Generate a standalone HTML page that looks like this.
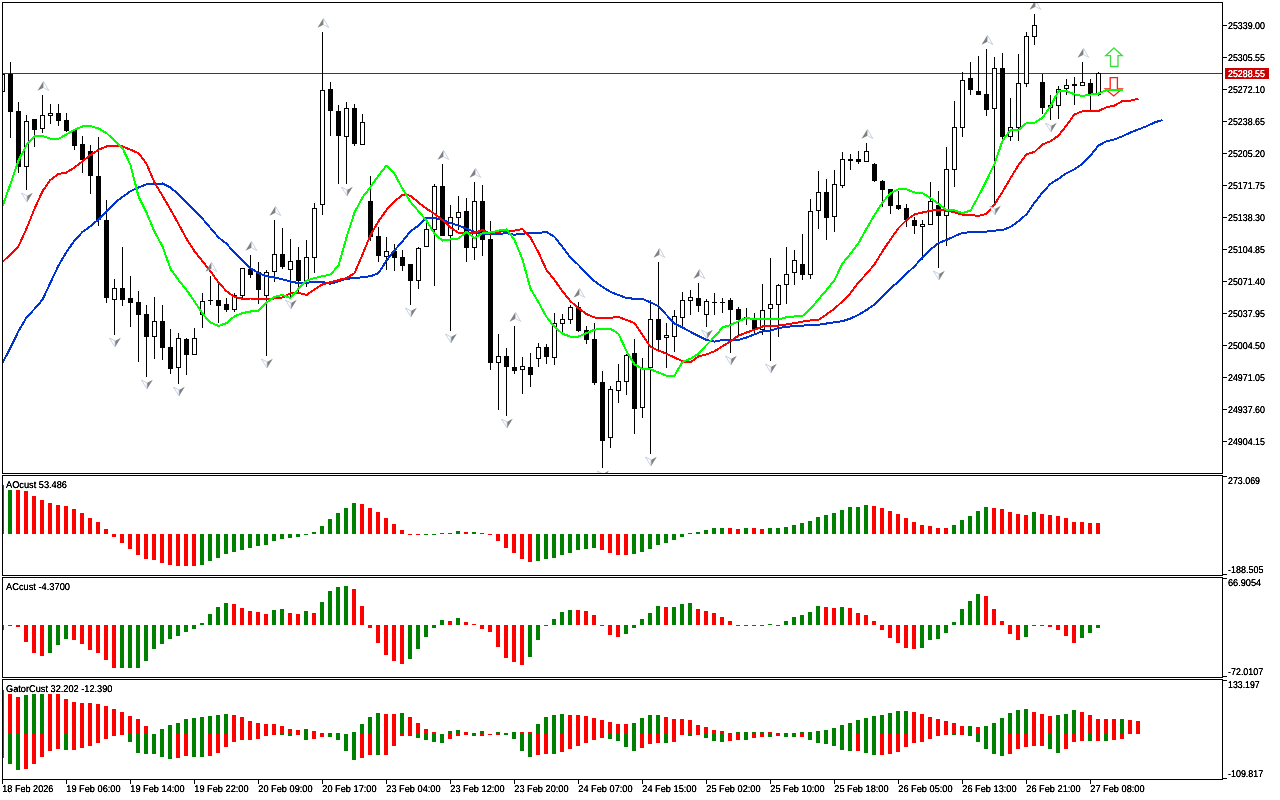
<!DOCTYPE html><html><head><meta charset="utf-8"><title>chart</title><style>html,body{margin:0;padding:0;background:#fff;overflow:hidden}svg{display:block}text{text-rendering:geometricPrecision;font-family:"Liberation Sans",sans-serif;font-size:9.8px;fill:#000;stroke:#000;stroke-width:0.1px}</style></head><body>
<svg width="1280" height="800" viewBox="0 0 1280 800">
<rect width="1280" height="800" fill="#fff"/>
<defs><clipPath id="cm"><rect x="3" y="3" width="1219" height="470"/></clipPath><clipPath id="c1"><rect x="3" y="476" width="1219" height="99"/></clipPath><clipPath id="c2"><rect x="3" y="578" width="1219" height="99"/></clipPath><filter id="th" x="0" y="0" width="1280" height="800" filterUnits="userSpaceOnUse" color-interpolation-filters="sRGB"><feComponentTransfer><feFuncA type="linear" slope="1.7" intercept="-0.12"/></feComponentTransfer></filter><clipPath id="c3"><rect x="3" y="680" width="1219" height="99"/></clipPath></defs>
<g shape-rendering="crispEdges">
<g clip-path="url(#cm)">
<rect x="3" y="73" width="1219" height="1" fill="#cc0000"/>
<rect x="2" y="70" width="1" height="25" fill="#000"/>
<rect x="0" y="74" width="5" height="18" fill="#000"/>
<rect x="1" y="75" width="3" height="16" fill="#fff"/>
<rect x="10" y="62" width="1" height="76" fill="#000"/>
<rect x="8" y="74" width="5" height="38" fill="#000"/>
<rect x="18" y="102" width="1" height="71" fill="#000"/>
<rect x="16" y="111" width="5" height="56" fill="#000"/>
<rect x="26" y="115" width="1" height="75" fill="#000"/>
<rect x="24" y="121" width="5" height="46" fill="#000"/>
<rect x="25" y="122" width="3" height="44" fill="#fff"/>
<rect x="34" y="119" width="1" height="28" fill="#000"/>
<rect x="32" y="119" width="5" height="11" fill="#000"/>
<rect x="42" y="95" width="1" height="38" fill="#000"/>
<rect x="40" y="115" width="5" height="14" fill="#000"/>
<rect x="41" y="116" width="3" height="12" fill="#fff"/>
<rect x="50" y="104" width="1" height="20" fill="#000"/>
<rect x="48" y="113" width="5" height="3" fill="#000"/>
<rect x="49" y="114" width="3" height="1" fill="#fff"/>
<rect x="58" y="104" width="1" height="22" fill="#000"/>
<rect x="56" y="113" width="5" height="8" fill="#000"/>
<rect x="66" y="113" width="1" height="19" fill="#000"/>
<rect x="64" y="120" width="5" height="11" fill="#000"/>
<rect x="74" y="129" width="1" height="21" fill="#000"/>
<rect x="72" y="130" width="5" height="16" fill="#000"/>
<rect x="82" y="136" width="1" height="37" fill="#000"/>
<rect x="80" y="144" width="5" height="16" fill="#000"/>
<rect x="90" y="145" width="1" height="49" fill="#000"/>
<rect x="88" y="151" width="5" height="25" fill="#000"/>
<rect x="98" y="137" width="1" height="89" fill="#000"/>
<rect x="96" y="176" width="5" height="44" fill="#000"/>
<rect x="106" y="200" width="1" height="103" fill="#000"/>
<rect x="104" y="220" width="5" height="78" fill="#000"/>
<rect x="114" y="279" width="1" height="56" fill="#000"/>
<rect x="112" y="288" width="5" height="12" fill="#000"/>
<rect x="113" y="289" width="3" height="10" fill="#fff"/>
<rect x="122" y="247" width="1" height="59" fill="#000"/>
<rect x="120" y="288" width="5" height="12" fill="#000"/>
<rect x="130" y="276" width="1" height="51" fill="#000"/>
<rect x="128" y="298" width="5" height="5" fill="#000"/>
<rect x="138" y="291" width="1" height="71" fill="#000"/>
<rect x="136" y="302" width="5" height="13" fill="#000"/>
<rect x="146" y="305" width="1" height="72" fill="#000"/>
<rect x="144" y="314" width="5" height="23" fill="#000"/>
<rect x="154" y="297" width="1" height="62" fill="#000"/>
<rect x="152" y="321" width="5" height="16" fill="#000"/>
<rect x="153" y="322" width="3" height="14" fill="#fff"/>
<rect x="162" y="305" width="1" height="55" fill="#000"/>
<rect x="160" y="321" width="5" height="27" fill="#000"/>
<rect x="170" y="329" width="1" height="45" fill="#000"/>
<rect x="168" y="347" width="5" height="22" fill="#000"/>
<rect x="178" y="333" width="1" height="51" fill="#000"/>
<rect x="176" y="338" width="5" height="30" fill="#000"/>
<rect x="177" y="339" width="3" height="28" fill="#fff"/>
<rect x="186" y="338" width="1" height="37" fill="#000"/>
<rect x="184" y="339" width="5" height="16" fill="#000"/>
<rect x="194" y="328" width="1" height="27" fill="#000"/>
<rect x="192" y="338" width="5" height="17" fill="#000"/>
<rect x="193" y="339" width="3" height="15" fill="#fff"/>
<rect x="202" y="293" width="1" height="35" fill="#000"/>
<rect x="200" y="301" width="5" height="14" fill="#000"/>
<rect x="201" y="302" width="3" height="12" fill="#fff"/>
<rect x="210" y="276" width="1" height="29" fill="#000"/>
<rect x="208" y="300" width="5" height="1" fill="#000"/>
<rect x="218" y="284" width="1" height="39" fill="#000"/>
<rect x="216" y="300" width="5" height="6" fill="#000"/>
<rect x="226" y="298" width="1" height="14" fill="#000"/>
<rect x="224" y="304" width="5" height="6" fill="#000"/>
<rect x="234" y="293" width="1" height="19" fill="#000"/>
<rect x="232" y="295" width="5" height="15" fill="#000"/>
<rect x="233" y="296" width="3" height="13" fill="#fff"/>
<rect x="242" y="268" width="1" height="30" fill="#000"/>
<rect x="240" y="268" width="5" height="28" fill="#000"/>
<rect x="241" y="269" width="3" height="26" fill="#fff"/>
<rect x="250" y="255" width="1" height="23" fill="#000"/>
<rect x="248" y="269" width="5" height="6" fill="#000"/>
<rect x="258" y="262" width="1" height="42" fill="#000"/>
<rect x="256" y="272" width="5" height="18" fill="#000"/>
<rect x="266" y="270" width="1" height="86" fill="#000"/>
<rect x="264" y="272" width="5" height="24" fill="#000"/>
<rect x="265" y="273" width="3" height="22" fill="#fff"/>
<rect x="274" y="220" width="1" height="62" fill="#000"/>
<rect x="272" y="254" width="5" height="18" fill="#000"/>
<rect x="273" y="255" width="3" height="16" fill="#fff"/>
<rect x="282" y="228" width="1" height="41" fill="#000"/>
<rect x="280" y="254" width="5" height="13" fill="#000"/>
<rect x="290" y="239" width="1" height="58" fill="#000"/>
<rect x="288" y="261" width="5" height="9" fill="#000"/>
<rect x="289" y="262" width="3" height="7" fill="#fff"/>
<rect x="298" y="247" width="1" height="46" fill="#000"/>
<rect x="296" y="260" width="5" height="21" fill="#000"/>
<rect x="306" y="240" width="1" height="47" fill="#000"/>
<rect x="304" y="257" width="5" height="24" fill="#000"/>
<rect x="305" y="258" width="3" height="22" fill="#fff"/>
<rect x="314" y="203" width="1" height="70" fill="#000"/>
<rect x="312" y="208" width="5" height="50" fill="#000"/>
<rect x="313" y="209" width="3" height="48" fill="#fff"/>
<rect x="322" y="32" width="1" height="183" fill="#000"/>
<rect x="320" y="90" width="5" height="115" fill="#000"/>
<rect x="321" y="91" width="3" height="113" fill="#fff"/>
<rect x="330" y="82" width="1" height="54" fill="#000"/>
<rect x="328" y="89" width="5" height="22" fill="#000"/>
<rect x="338" y="105" width="1" height="79" fill="#000"/>
<rect x="336" y="111" width="5" height="25" fill="#000"/>
<rect x="346" y="102" width="1" height="82" fill="#000"/>
<rect x="344" y="108" width="5" height="29" fill="#000"/>
<rect x="345" y="109" width="3" height="27" fill="#fff"/>
<rect x="354" y="104" width="1" height="42" fill="#000"/>
<rect x="352" y="108" width="5" height="36" fill="#000"/>
<rect x="362" y="114" width="1" height="31" fill="#000"/>
<rect x="360" y="122" width="5" height="23" fill="#000"/>
<rect x="361" y="123" width="3" height="21" fill="#fff"/>
<rect x="370" y="176" width="1" height="65" fill="#000"/>
<rect x="368" y="201" width="5" height="36" fill="#000"/>
<rect x="378" y="227" width="1" height="35" fill="#000"/>
<rect x="376" y="236" width="5" height="20" fill="#000"/>
<rect x="386" y="237" width="1" height="33" fill="#000"/>
<rect x="384" y="251" width="5" height="6" fill="#000"/>
<rect x="385" y="252" width="3" height="4" fill="#fff"/>
<rect x="394" y="244" width="1" height="27" fill="#000"/>
<rect x="392" y="251" width="5" height="7" fill="#000"/>
<rect x="402" y="250" width="1" height="21" fill="#000"/>
<rect x="400" y="257" width="5" height="9" fill="#000"/>
<rect x="410" y="264" width="1" height="41" fill="#000"/>
<rect x="408" y="264" width="5" height="17" fill="#000"/>
<rect x="418" y="247" width="1" height="42" fill="#000"/>
<rect x="416" y="248" width="5" height="33" fill="#000"/>
<rect x="417" y="249" width="3" height="31" fill="#fff"/>
<rect x="426" y="222" width="1" height="25" fill="#000"/>
<rect x="424" y="229" width="5" height="18" fill="#000"/>
<rect x="425" y="230" width="3" height="16" fill="#fff"/>
<rect x="434" y="184" width="1" height="102" fill="#000"/>
<rect x="432" y="186" width="5" height="44" fill="#000"/>
<rect x="433" y="187" width="3" height="42" fill="#fff"/>
<rect x="442" y="164" width="1" height="72" fill="#000"/>
<rect x="440" y="186" width="5" height="50" fill="#000"/>
<rect x="450" y="205" width="1" height="126" fill="#000"/>
<rect x="448" y="217" width="5" height="19" fill="#000"/>
<rect x="449" y="218" width="3" height="17" fill="#fff"/>
<rect x="458" y="196" width="1" height="34" fill="#000"/>
<rect x="456" y="212" width="5" height="6" fill="#000"/>
<rect x="457" y="213" width="3" height="4" fill="#fff"/>
<rect x="466" y="198" width="1" height="64" fill="#000"/>
<rect x="464" y="211" width="5" height="37" fill="#000"/>
<rect x="474" y="182" width="1" height="78" fill="#000"/>
<rect x="472" y="201" width="5" height="47" fill="#000"/>
<rect x="473" y="202" width="3" height="45" fill="#fff"/>
<rect x="482" y="185" width="1" height="71" fill="#000"/>
<rect x="480" y="201" width="5" height="39" fill="#000"/>
<rect x="490" y="221" width="1" height="149" fill="#000"/>
<rect x="488" y="239" width="5" height="124" fill="#000"/>
<rect x="498" y="334" width="1" height="76" fill="#000"/>
<rect x="496" y="356" width="5" height="7" fill="#000"/>
<rect x="497" y="357" width="3" height="5" fill="#fff"/>
<rect x="506" y="348" width="1" height="68" fill="#000"/>
<rect x="504" y="356" width="5" height="11" fill="#000"/>
<rect x="514" y="326" width="1" height="48" fill="#000"/>
<rect x="512" y="367" width="5" height="4" fill="#000"/>
<rect x="522" y="357" width="1" height="37" fill="#000"/>
<rect x="520" y="366" width="5" height="4" fill="#000"/>
<rect x="521" y="367" width="3" height="2" fill="#fff"/>
<rect x="530" y="353" width="1" height="34" fill="#000"/>
<rect x="528" y="367" width="5" height="8" fill="#000"/>
<rect x="538" y="343" width="1" height="24" fill="#000"/>
<rect x="536" y="347" width="5" height="12" fill="#000"/>
<rect x="537" y="348" width="3" height="10" fill="#fff"/>
<rect x="546" y="344" width="1" height="20" fill="#000"/>
<rect x="544" y="347" width="5" height="10" fill="#000"/>
<rect x="554" y="313" width="1" height="52" fill="#000"/>
<rect x="552" y="323" width="5" height="35" fill="#000"/>
<rect x="553" y="324" width="3" height="33" fill="#fff"/>
<rect x="562" y="314" width="1" height="18" fill="#000"/>
<rect x="560" y="319" width="5" height="5" fill="#000"/>
<rect x="561" y="320" width="3" height="3" fill="#fff"/>
<rect x="570" y="305" width="1" height="19" fill="#000"/>
<rect x="568" y="307" width="5" height="13" fill="#000"/>
<rect x="569" y="308" width="3" height="11" fill="#fff"/>
<rect x="578" y="302" width="1" height="30" fill="#000"/>
<rect x="576" y="307" width="5" height="24" fill="#000"/>
<rect x="586" y="326" width="1" height="18" fill="#000"/>
<rect x="584" y="330" width="5" height="10" fill="#000"/>
<rect x="594" y="323" width="1" height="62" fill="#000"/>
<rect x="592" y="339" width="5" height="44" fill="#000"/>
<rect x="602" y="371" width="1" height="97" fill="#000"/>
<rect x="600" y="382" width="5" height="59" fill="#000"/>
<rect x="610" y="386" width="1" height="62" fill="#000"/>
<rect x="608" y="389" width="5" height="49" fill="#000"/>
<rect x="609" y="390" width="3" height="47" fill="#fff"/>
<rect x="618" y="364" width="1" height="39" fill="#000"/>
<rect x="616" y="381" width="5" height="10" fill="#000"/>
<rect x="617" y="382" width="3" height="8" fill="#fff"/>
<rect x="626" y="354" width="1" height="41" fill="#000"/>
<rect x="624" y="355" width="5" height="27" fill="#000"/>
<rect x="625" y="356" width="3" height="25" fill="#fff"/>
<rect x="634" y="339" width="1" height="95" fill="#000"/>
<rect x="632" y="353" width="5" height="56" fill="#000"/>
<rect x="642" y="358" width="1" height="60" fill="#000"/>
<rect x="640" y="368" width="5" height="40" fill="#000"/>
<rect x="641" y="369" width="3" height="38" fill="#fff"/>
<rect x="650" y="300" width="1" height="154" fill="#000"/>
<rect x="648" y="319" width="5" height="49" fill="#000"/>
<rect x="649" y="320" width="3" height="47" fill="#fff"/>
<rect x="658" y="262" width="1" height="88" fill="#000"/>
<rect x="656" y="319" width="5" height="21" fill="#000"/>
<rect x="666" y="323" width="1" height="45" fill="#000"/>
<rect x="664" y="335" width="5" height="3" fill="#000"/>
<rect x="665" y="336" width="3" height="1" fill="#fff"/>
<rect x="674" y="310" width="1" height="42" fill="#000"/>
<rect x="672" y="316" width="5" height="21" fill="#000"/>
<rect x="673" y="317" width="3" height="19" fill="#fff"/>
<rect x="682" y="292" width="1" height="35" fill="#000"/>
<rect x="680" y="300" width="5" height="18" fill="#000"/>
<rect x="681" y="301" width="3" height="16" fill="#fff"/>
<rect x="690" y="290" width="1" height="25" fill="#000"/>
<rect x="688" y="297" width="5" height="4" fill="#000"/>
<rect x="689" y="298" width="3" height="2" fill="#fff"/>
<rect x="698" y="283" width="1" height="29" fill="#000"/>
<rect x="696" y="298" width="5" height="8" fill="#000"/>
<rect x="706" y="299" width="1" height="28" fill="#000"/>
<rect x="704" y="301" width="5" height="14" fill="#000"/>
<rect x="705" y="302" width="3" height="12" fill="#fff"/>
<rect x="714" y="293" width="1" height="22" fill="#000"/>
<rect x="712" y="302" width="5" height="1" fill="#000"/>
<rect x="722" y="298" width="1" height="15" fill="#000"/>
<rect x="720" y="302" width="5" height="1" fill="#000"/>
<rect x="730" y="298" width="1" height="55" fill="#000"/>
<rect x="728" y="300" width="5" height="10" fill="#000"/>
<rect x="738" y="307" width="1" height="28" fill="#000"/>
<rect x="736" y="309" width="5" height="11" fill="#000"/>
<rect x="746" y="308" width="1" height="17" fill="#000"/>
<rect x="744" y="317" width="5" height="1" fill="#000"/>
<rect x="754" y="313" width="1" height="20" fill="#000"/>
<rect x="752" y="320" width="5" height="10" fill="#000"/>
<rect x="762" y="284" width="1" height="51" fill="#000"/>
<rect x="760" y="310" width="5" height="20" fill="#000"/>
<rect x="761" y="311" width="3" height="18" fill="#fff"/>
<rect x="770" y="258" width="1" height="103" fill="#000"/>
<rect x="768" y="304" width="5" height="5" fill="#000"/>
<rect x="769" y="305" width="3" height="3" fill="#fff"/>
<rect x="778" y="284" width="1" height="53" fill="#000"/>
<rect x="776" y="285" width="5" height="20" fill="#000"/>
<rect x="777" y="286" width="3" height="18" fill="#fff"/>
<rect x="786" y="247" width="1" height="57" fill="#000"/>
<rect x="784" y="274" width="5" height="11" fill="#000"/>
<rect x="785" y="275" width="3" height="9" fill="#fff"/>
<rect x="794" y="250" width="1" height="35" fill="#000"/>
<rect x="792" y="260" width="5" height="13" fill="#000"/>
<rect x="793" y="261" width="3" height="11" fill="#fff"/>
<rect x="802" y="234" width="1" height="46" fill="#000"/>
<rect x="800" y="264" width="5" height="11" fill="#000"/>
<rect x="810" y="199" width="1" height="80" fill="#000"/>
<rect x="808" y="211" width="5" height="64" fill="#000"/>
<rect x="809" y="212" width="3" height="62" fill="#fff"/>
<rect x="818" y="171" width="1" height="58" fill="#000"/>
<rect x="816" y="192" width="5" height="19" fill="#000"/>
<rect x="817" y="193" width="3" height="17" fill="#fff"/>
<rect x="826" y="179" width="1" height="61" fill="#000"/>
<rect x="824" y="192" width="5" height="26" fill="#000"/>
<rect x="834" y="170" width="1" height="62" fill="#000"/>
<rect x="832" y="184" width="5" height="33" fill="#000"/>
<rect x="833" y="185" width="3" height="31" fill="#fff"/>
<rect x="842" y="152" width="1" height="36" fill="#000"/>
<rect x="840" y="159" width="5" height="27" fill="#000"/>
<rect x="841" y="160" width="3" height="25" fill="#fff"/>
<rect x="850" y="154" width="1" height="16" fill="#000"/>
<rect x="848" y="159" width="5" height="2" fill="#000"/>
<rect x="858" y="151" width="1" height="13" fill="#000"/>
<rect x="856" y="159" width="5" height="3" fill="#000"/>
<rect x="866" y="143" width="1" height="19" fill="#000"/>
<rect x="864" y="151" width="5" height="11" fill="#000"/>
<rect x="865" y="152" width="3" height="9" fill="#fff"/>
<rect x="874" y="163" width="1" height="19" fill="#000"/>
<rect x="872" y="164" width="5" height="17" fill="#000"/>
<rect x="882" y="180" width="1" height="27" fill="#000"/>
<rect x="880" y="181" width="5" height="9" fill="#000"/>
<rect x="890" y="189" width="1" height="25" fill="#000"/>
<rect x="888" y="189" width="5" height="17" fill="#000"/>
<rect x="898" y="191" width="1" height="19" fill="#000"/>
<rect x="896" y="205" width="5" height="4" fill="#000"/>
<rect x="906" y="204" width="1" height="23" fill="#000"/>
<rect x="904" y="208" width="5" height="12" fill="#000"/>
<rect x="914" y="217" width="1" height="17" fill="#000"/>
<rect x="912" y="220" width="5" height="6" fill="#000"/>
<rect x="922" y="220" width="1" height="40" fill="#000"/>
<rect x="920" y="224" width="5" height="3" fill="#000"/>
<rect x="921" y="225" width="3" height="1" fill="#fff"/>
<rect x="930" y="182" width="1" height="43" fill="#000"/>
<rect x="928" y="201" width="5" height="24" fill="#000"/>
<rect x="929" y="202" width="3" height="22" fill="#fff"/>
<rect x="938" y="191" width="1" height="77" fill="#000"/>
<rect x="936" y="205" width="5" height="11" fill="#000"/>
<rect x="946" y="147" width="1" height="99" fill="#000"/>
<rect x="944" y="169" width="5" height="47" fill="#000"/>
<rect x="945" y="170" width="3" height="45" fill="#fff"/>
<rect x="954" y="101" width="1" height="86" fill="#000"/>
<rect x="952" y="127" width="5" height="43" fill="#000"/>
<rect x="953" y="128" width="3" height="41" fill="#fff"/>
<rect x="962" y="72" width="1" height="65" fill="#000"/>
<rect x="960" y="80" width="5" height="48" fill="#000"/>
<rect x="961" y="81" width="3" height="46" fill="#fff"/>
<rect x="970" y="62" width="1" height="33" fill="#000"/>
<rect x="968" y="78" width="5" height="12" fill="#000"/>
<rect x="978" y="56" width="1" height="39" fill="#000"/>
<rect x="976" y="91" width="5" height="4" fill="#000"/>
<rect x="986" y="49" width="1" height="67" fill="#000"/>
<rect x="984" y="94" width="5" height="16" fill="#000"/>
<rect x="994" y="57" width="1" height="146" fill="#000"/>
<rect x="992" y="68" width="5" height="41" fill="#000"/>
<rect x="993" y="69" width="3" height="39" fill="#fff"/>
<rect x="1002" y="53" width="1" height="86" fill="#000"/>
<rect x="1000" y="68" width="5" height="69" fill="#000"/>
<rect x="1010" y="98" width="1" height="43" fill="#000"/>
<rect x="1008" y="127" width="5" height="10" fill="#000"/>
<rect x="1009" y="128" width="3" height="8" fill="#fff"/>
<rect x="1018" y="54" width="1" height="87" fill="#000"/>
<rect x="1016" y="83" width="5" height="45" fill="#000"/>
<rect x="1017" y="84" width="3" height="43" fill="#fff"/>
<rect x="1026" y="32" width="1" height="55" fill="#000"/>
<rect x="1024" y="36" width="5" height="48" fill="#000"/>
<rect x="1025" y="37" width="3" height="46" fill="#fff"/>
<rect x="1034" y="14" width="1" height="31" fill="#000"/>
<rect x="1032" y="25" width="5" height="12" fill="#000"/>
<rect x="1033" y="26" width="3" height="10" fill="#fff"/>
<rect x="1042" y="74" width="1" height="40" fill="#000"/>
<rect x="1040" y="82" width="5" height="26" fill="#000"/>
<rect x="1050" y="95" width="1" height="25" fill="#000"/>
<rect x="1048" y="105" width="5" height="3" fill="#000"/>
<rect x="1049" y="106" width="3" height="1" fill="#fff"/>
<rect x="1058" y="86" width="1" height="33" fill="#000"/>
<rect x="1056" y="89" width="5" height="17" fill="#000"/>
<rect x="1057" y="90" width="3" height="15" fill="#fff"/>
<rect x="1066" y="79" width="1" height="16" fill="#000"/>
<rect x="1064" y="85" width="5" height="4" fill="#000"/>
<rect x="1065" y="86" width="3" height="2" fill="#fff"/>
<rect x="1074" y="77" width="1" height="28" fill="#000"/>
<rect x="1072" y="84" width="5" height="2" fill="#000"/>
<rect x="1082" y="62" width="1" height="24" fill="#000"/>
<rect x="1080" y="82" width="5" height="4" fill="#000"/>
<rect x="1081" y="83" width="3" height="2" fill="#fff"/>
<rect x="1090" y="79" width="1" height="31" fill="#000"/>
<rect x="1088" y="83" width="5" height="11" fill="#000"/>
<rect x="1098" y="72" width="1" height="24" fill="#000"/>
<rect x="1096" y="73" width="5" height="22" fill="#000"/>
<rect x="1097" y="74" width="3" height="20" fill="#fff"/>
</g></g><g clip-path="url(#cm)">
<path d="M1114,48 L1122.3,55.7 L1118,55.7 L1118,66.5 L1110.5,66.5 L1110.5,55.7 L1105.7,55.7 Z" fill="#fff" stroke="#3fdc3f" stroke-width="1.3"/>
<path d="M1110.2,77.7 L1117.4,77.7 L1117.4,89 L1122,89 L1113.7,96 L1105.3,89 L1110.2,89 Z" fill="#fff" stroke="#ff1a1a" stroke-width="1.3"/>
</g><g shape-rendering="crispEdges"><g clip-path="url(#cm)">
<polyline points="2.5,363.10 10.5,347.50 18.5,331.25 26.5,317.50 34.5,309.00 42.5,299.70 50.5,282.50 58.5,265.60 66.5,251.90 74.5,240.60 82.5,231.90 90.5,226.25 98.5,219.40 106.5,211.90 114.5,203.10 122.5,196.90 130.5,191.25 138.5,187.50 146.5,184.40 154.5,183.75 162.5,183.50 170.5,187.53 178.5,194.36 186.5,202.48 194.5,210.33 202.5,218.69 210.5,228.13 218.5,237.40 226.5,243.75 234.5,252.50 242.5,260.60 250.5,268.10 258.5,273.10 266.5,276.25 274.5,277.50 282.5,279.40 290.5,281.50 298.5,283.10 306.5,282.75 314.5,281.90 322.5,281.90 330.5,283.75 338.5,281.25 346.5,278.75 354.5,278.10 362.5,277.25 370.5,276.25 378.5,273.10 386.5,260.60 394.5,250.30 402.5,241.25 410.5,231.25 418.5,225.60 426.5,217.75 434.5,217.75 442.5,220.00 450.5,223.10 458.5,225.60 466.5,228.75 474.5,231.90 482.5,234.40 490.5,234.40 498.5,234.00 506.5,233.10 514.5,234.75 522.5,233.75 530.5,232.90 538.5,232.90 546.5,231.90 554.5,236.90 562.5,246.90 570.5,257.50 578.5,265.00 586.5,273.50 594.5,281.25 602.5,286.90 610.5,291.90 618.5,295.00 626.5,298.10 634.5,298.75 642.5,299.00 650.5,302.25 658.5,306.25 666.5,315.00 674.5,323.50 682.5,327.50 690.5,331.90 698.5,336.00 706.5,340.00 714.5,341.60 722.5,340.00 730.5,340.00 738.5,340.00 746.5,337.50 754.5,334.40 762.5,331.25 770.5,330.60 778.5,328.10 786.5,326.90 794.5,326.00 802.5,325.60 810.5,325.00 818.5,324.75 826.5,323.50 834.5,322.25 842.5,321.25 850.5,318.50 858.5,314.75 866.5,310.00 874.5,304.40 882.5,296.25 890.5,288.10 898.5,281.90 906.5,273.75 914.5,266.25 922.5,257.50 930.5,249.40 938.5,243.10 946.5,240.00 954.5,236.25 962.5,232.90 970.5,232.25 978.5,231.90 986.5,231.60 994.5,230.60 1002.5,230.00 1010.5,226.90 1018.5,221.25 1026.5,214.29 1034.5,202.74 1042.5,192.62 1050.5,183.75 1058.5,178.75 1066.5,173.10 1074.5,169.40 1082.5,163.75 1090.5,155.60 1098.5,145.60 1106.5,141.25 1114.5,139.40 1122.5,136.25 1130.5,132.50 1138.5,129.40 1146.5,126.25 1154.5,122.50 1162.5,120.00" fill="none" stroke="#0033d0" stroke-width="2" stroke-linejoin="round"/>
<polyline points="2.5,261.90 10.5,254.40 18.5,246.25 26.5,228.75 34.5,208.75 42.5,191.25 50.5,179.75 58.5,174.00 66.5,172.50 74.5,167.50 82.5,161.25 90.5,155.00 98.5,149.75 106.5,146.50 114.5,146.00 122.5,146.50 130.5,149.75 138.5,153.10 146.5,163.75 154.5,182.50 162.5,195.83 170.5,209.50 178.5,223.97 186.5,238.75 194.5,251.25 202.5,261.25 210.5,271.25 218.5,282.50 226.5,291.25 234.5,296.90 242.5,298.75 250.5,298.50 258.5,298.50 266.5,298.75 274.5,298.50 282.5,297.50 290.5,293.10 298.5,292.75 306.5,295.00 314.5,289.40 322.5,284.40 330.5,282.25 338.5,280.00 346.5,278.10 354.5,273.10 362.5,254.60 370.5,235.00 378.5,221.25 386.5,210.00 394.5,201.25 402.5,195.00 410.5,195.60 418.5,202.50 426.5,208.75 434.5,213.75 442.5,220.00 450.5,227.50 458.5,232.90 466.5,232.90 474.5,232.90 482.5,230.00 490.5,233.75 498.5,231.90 506.5,230.60 514.5,230.60 522.5,229.00 530.5,237.50 538.5,252.50 546.5,270.00 554.5,280.00 562.5,291.25 570.5,301.25 578.5,308.10 586.5,314.00 594.5,317.50 602.5,317.75 610.5,317.75 618.5,316.90 626.5,320.00 634.5,323.10 642.5,335.00 650.5,346.90 658.5,350.60 666.5,353.75 674.5,357.50 682.5,361.25 690.5,362.50 698.5,356.25 706.5,354.40 714.5,351.25 722.5,346.25 730.5,341.25 738.5,335.60 746.5,332.50 754.5,329.75 762.5,326.50 770.5,326.25 778.5,325.60 786.5,324.40 794.5,323.10 802.5,321.60 810.5,320.40 818.5,319.75 826.5,314.40 834.5,308.75 842.5,301.25 850.5,293.10 858.5,282.50 866.5,273.75 874.5,264.40 882.5,251.25 890.5,239.40 898.5,228.10 906.5,220.00 914.5,214.40 922.5,212.50 930.5,210.60 938.5,210.00 946.5,210.60 954.5,212.25 962.5,214.75 970.5,215.00 978.5,216.00 986.5,213.75 994.5,204.40 1002.5,191.90 1010.5,178.10 1018.5,165.00 1026.5,154.40 1034.5,151.90 1042.5,144.40 1050.5,141.25 1058.5,135.60 1066.5,125.60 1074.5,114.40 1082.5,111.25 1090.5,111.00 1098.5,111.00 1106.5,107.25 1114.5,105.60 1122.5,101.00 1130.5,100.60 1138.5,98.75" fill="none" stroke="#ff0000" stroke-width="2" stroke-linejoin="round"/>
<polyline points="2.5,206.25 10.5,183.75 18.5,160.60 26.5,145.00 34.5,136.25 42.5,135.90 50.5,138.75 58.5,138.75 66.5,134.40 74.5,129.75 82.5,126.50 90.5,126.00 98.5,128.50 106.5,133.10 114.5,140.60 122.5,148.10 130.5,165.00 138.5,196.25 146.5,212.50 154.5,231.69 162.5,246.25 170.5,268.75 178.5,280.00 186.5,290.00 194.5,301.25 202.5,313.75 210.5,322.50 218.5,326.00 226.5,323.10 234.5,316.25 242.5,313.10 250.5,311.50 258.5,310.60 266.5,302.50 274.5,296.90 282.5,295.00 290.5,298.10 298.5,288.75 306.5,280.60 314.5,278.10 322.5,276.25 330.5,274.40 338.5,265.60 346.5,237.50 354.5,212.50 362.5,197.50 370.5,186.90 378.5,175.60 386.5,165.60 394.5,173.75 402.5,188.75 410.5,201.90 418.5,211.25 426.5,220.60 434.5,233.75 442.5,240.60 450.5,239.40 458.5,238.50 466.5,231.90 474.5,238.10 482.5,233.10 490.5,232.50 498.5,230.60 506.5,229.40 514.5,240.00 522.5,259.40 530.5,288.75 538.5,302.25 546.5,316.90 554.5,326.90 562.5,333.75 570.5,336.60 578.5,336.60 586.5,333.10 594.5,329.75 602.5,328.75 610.5,328.75 618.5,333.75 626.5,351.25 634.5,364.40 642.5,368.75 650.5,369.40 658.5,372.50 666.5,375.60 674.5,375.60 682.5,361.90 690.5,358.75 698.5,353.75 706.5,345.00 714.5,336.90 722.5,327.50 730.5,325.00 738.5,321.25 746.5,317.75 754.5,319.40 762.5,319.40 770.5,319.40 778.5,319.40 786.5,317.25 794.5,316.50 802.5,316.00 810.5,308.75 818.5,299.40 826.5,290.00 834.5,280.00 842.5,263.50 850.5,253.75 858.5,243.10 866.5,228.75 874.5,215.00 882.5,202.50 890.5,193.10 898.5,189.40 906.5,189.40 914.5,192.50 922.5,193.10 930.5,198.10 938.5,203.75 946.5,210.00 954.5,210.25 962.5,213.10 970.5,210.60 978.5,196.25 986.5,180.60 994.5,163.75 1002.5,140.82 1010.5,130.00 1018.5,130.00 1026.5,123.10 1034.5,122.90 1042.5,117.75 1050.5,106.25 1058.5,91.00 1066.5,91.00 1074.5,94.40 1082.5,96.00 1090.5,94.60 1098.5,93.60 1106.5,90.00 1114.5,90.00 1122.5,90.00" fill="none" stroke="#00ff00" stroke-width="2" stroke-linejoin="round"/>
</g>
<g clip-path="url(#c1)">
<rect x="0" y="485" width="4" height="49" fill="#ff0000"/>
<rect x="8" y="490" width="4" height="44" fill="#008000"/>
<rect x="16" y="490" width="4" height="44" fill="#ff0000"/>
<rect x="24" y="491" width="4" height="43" fill="#ff0000"/>
<rect x="32" y="496" width="4" height="38" fill="#ff0000"/>
<rect x="40" y="500" width="4" height="34" fill="#ff0000"/>
<rect x="48" y="503" width="4" height="31" fill="#ff0000"/>
<rect x="56" y="505" width="4" height="29" fill="#ff0000"/>
<rect x="64" y="506" width="4" height="28" fill="#ff0000"/>
<rect x="72" y="509" width="4" height="25" fill="#ff0000"/>
<rect x="80" y="513" width="4" height="21" fill="#ff0000"/>
<rect x="88" y="518" width="4" height="16" fill="#ff0000"/>
<rect x="96" y="522" width="4" height="12" fill="#ff0000"/>
<rect x="104" y="529" width="4" height="5" fill="#ff0000"/>
<rect x="112" y="534" width="4" height="3" fill="#ff0000"/>
<rect x="120" y="534" width="4" height="9" fill="#ff0000"/>
<rect x="128" y="534" width="4" height="15" fill="#ff0000"/>
<rect x="136" y="534" width="4" height="21" fill="#ff0000"/>
<rect x="144" y="534" width="4" height="25" fill="#ff0000"/>
<rect x="152" y="534" width="4" height="26" fill="#ff0000"/>
<rect x="160" y="534" width="4" height="29" fill="#ff0000"/>
<rect x="168" y="534" width="4" height="31" fill="#ff0000"/>
<rect x="176" y="534" width="4" height="32" fill="#ff0000"/>
<rect x="184" y="534" width="4" height="32" fill="#ff0000"/>
<rect x="192" y="534" width="4" height="32" fill="#ff0000"/>
<rect x="200" y="534" width="4" height="31" fill="#008000"/>
<rect x="208" y="534" width="4" height="27" fill="#008000"/>
<rect x="216" y="534" width="4" height="24" fill="#008000"/>
<rect x="224" y="534" width="4" height="20" fill="#008000"/>
<rect x="232" y="534" width="4" height="18" fill="#008000"/>
<rect x="240" y="534" width="4" height="16" fill="#008000"/>
<rect x="248" y="534" width="4" height="14" fill="#008000"/>
<rect x="256" y="534" width="4" height="12" fill="#008000"/>
<rect x="264" y="534" width="4" height="11" fill="#008000"/>
<rect x="272" y="534" width="4" height="7" fill="#008000"/>
<rect x="280" y="534" width="4" height="5" fill="#008000"/>
<rect x="288" y="534" width="4" height="4" fill="#008000"/>
<rect x="296" y="534" width="4" height="3" fill="#008000"/>
<rect x="304" y="534" width="4" height="1" fill="#008000"/>
<rect x="312" y="532" width="4" height="2" fill="#008000"/>
<rect x="320" y="526" width="4" height="8" fill="#008000"/>
<rect x="328" y="519" width="4" height="15" fill="#008000"/>
<rect x="336" y="513" width="4" height="21" fill="#008000"/>
<rect x="344" y="508" width="4" height="26" fill="#008000"/>
<rect x="352" y="503" width="4" height="31" fill="#008000"/>
<rect x="360" y="504" width="4" height="30" fill="#ff0000"/>
<rect x="368" y="508" width="4" height="26" fill="#ff0000"/>
<rect x="376" y="512" width="4" height="22" fill="#ff0000"/>
<rect x="384" y="518" width="4" height="16" fill="#ff0000"/>
<rect x="392" y="524" width="4" height="10" fill="#ff0000"/>
<rect x="400" y="530" width="4" height="4" fill="#ff0000"/>
<rect x="408" y="534" width="4" height="1" fill="#ff0000"/>
<rect x="416" y="534" width="4" height="1" fill="#ff0000"/>
<rect x="424" y="534" width="4" height="1" fill="#008000"/>
<rect x="432" y="534" width="4" height="1" fill="#008000"/>
<rect x="440" y="533" width="4" height="1" fill="#008000"/>
<rect x="448" y="533" width="4" height="1" fill="#008000"/>
<rect x="456" y="531" width="4" height="3" fill="#008000"/>
<rect x="464" y="532" width="4" height="2" fill="#ff0000"/>
<rect x="472" y="532" width="4" height="2" fill="#008000"/>
<rect x="480" y="533" width="4" height="1" fill="#ff0000"/>
<rect x="488" y="534" width="4" height="1" fill="#ff0000"/>
<rect x="496" y="534" width="4" height="7" fill="#ff0000"/>
<rect x="504" y="534" width="4" height="14" fill="#ff0000"/>
<rect x="512" y="534" width="4" height="19" fill="#ff0000"/>
<rect x="520" y="534" width="4" height="25" fill="#ff0000"/>
<rect x="528" y="534" width="4" height="28" fill="#ff0000"/>
<rect x="536" y="534" width="4" height="27" fill="#008000"/>
<rect x="544" y="534" width="4" height="25" fill="#008000"/>
<rect x="552" y="534" width="4" height="24" fill="#008000"/>
<rect x="560" y="534" width="4" height="21" fill="#008000"/>
<rect x="568" y="534" width="4" height="19" fill="#008000"/>
<rect x="576" y="534" width="4" height="16" fill="#008000"/>
<rect x="584" y="534" width="4" height="15" fill="#008000"/>
<rect x="592" y="534" width="4" height="14" fill="#008000"/>
<rect x="600" y="534" width="4" height="16" fill="#ff0000"/>
<rect x="608" y="534" width="4" height="19" fill="#ff0000"/>
<rect x="616" y="534" width="4" height="21" fill="#ff0000"/>
<rect x="624" y="534" width="4" height="21" fill="#ff0000"/>
<rect x="632" y="534" width="4" height="20" fill="#008000"/>
<rect x="640" y="534" width="4" height="18" fill="#008000"/>
<rect x="648" y="534" width="4" height="15" fill="#008000"/>
<rect x="656" y="534" width="4" height="11" fill="#008000"/>
<rect x="664" y="534" width="4" height="9" fill="#008000"/>
<rect x="672" y="534" width="4" height="6" fill="#008000"/>
<rect x="680" y="534" width="4" height="3" fill="#008000"/>
<rect x="688" y="533" width="4" height="1" fill="#008000"/>
<rect x="696" y="532" width="4" height="2" fill="#008000"/>
<rect x="704" y="530" width="4" height="4" fill="#008000"/>
<rect x="712" y="528" width="4" height="6" fill="#008000"/>
<rect x="720" y="528" width="4" height="6" fill="#008000"/>
<rect x="728" y="528" width="4" height="6" fill="#ff0000"/>
<rect x="736" y="529" width="4" height="5" fill="#ff0000"/>
<rect x="744" y="528" width="4" height="6" fill="#008000"/>
<rect x="752" y="528" width="4" height="6" fill="#ff0000"/>
<rect x="760" y="529" width="4" height="5" fill="#ff0000"/>
<rect x="768" y="528" width="4" height="6" fill="#008000"/>
<rect x="776" y="528" width="4" height="6" fill="#008000"/>
<rect x="784" y="527" width="4" height="7" fill="#008000"/>
<rect x="792" y="525" width="4" height="9" fill="#008000"/>
<rect x="800" y="523" width="4" height="11" fill="#008000"/>
<rect x="808" y="521" width="4" height="13" fill="#008000"/>
<rect x="816" y="517" width="4" height="17" fill="#008000"/>
<rect x="824" y="515" width="4" height="19" fill="#008000"/>
<rect x="832" y="513" width="4" height="21" fill="#008000"/>
<rect x="840" y="510" width="4" height="24" fill="#008000"/>
<rect x="848" y="507" width="4" height="27" fill="#008000"/>
<rect x="856" y="507" width="4" height="27" fill="#008000"/>
<rect x="864" y="505" width="4" height="29" fill="#008000"/>
<rect x="872" y="506" width="4" height="28" fill="#ff0000"/>
<rect x="880" y="508" width="4" height="26" fill="#ff0000"/>
<rect x="888" y="511" width="4" height="23" fill="#ff0000"/>
<rect x="896" y="514" width="4" height="20" fill="#ff0000"/>
<rect x="904" y="518" width="4" height="16" fill="#ff0000"/>
<rect x="912" y="522" width="4" height="12" fill="#ff0000"/>
<rect x="920" y="525" width="4" height="9" fill="#ff0000"/>
<rect x="928" y="526" width="4" height="8" fill="#ff0000"/>
<rect x="936" y="528" width="4" height="6" fill="#ff0000"/>
<rect x="944" y="528" width="4" height="6" fill="#ff0000"/>
<rect x="952" y="525" width="4" height="9" fill="#008000"/>
<rect x="960" y="520" width="4" height="14" fill="#008000"/>
<rect x="968" y="516" width="4" height="18" fill="#008000"/>
<rect x="976" y="511" width="4" height="23" fill="#008000"/>
<rect x="984" y="507" width="4" height="27" fill="#008000"/>
<rect x="992" y="508" width="4" height="26" fill="#ff0000"/>
<rect x="1000" y="509" width="4" height="25" fill="#ff0000"/>
<rect x="1008" y="512" width="4" height="22" fill="#ff0000"/>
<rect x="1016" y="514" width="4" height="20" fill="#ff0000"/>
<rect x="1024" y="515" width="4" height="19" fill="#ff0000"/>
<rect x="1032" y="512" width="4" height="22" fill="#008000"/>
<rect x="1040" y="514" width="4" height="20" fill="#ff0000"/>
<rect x="1048" y="515" width="4" height="19" fill="#ff0000"/>
<rect x="1056" y="516" width="4" height="18" fill="#ff0000"/>
<rect x="1064" y="518" width="4" height="16" fill="#ff0000"/>
<rect x="1072" y="522" width="4" height="12" fill="#ff0000"/>
<rect x="1080" y="522" width="4" height="12" fill="#ff0000"/>
<rect x="1088" y="523" width="4" height="11" fill="#ff0000"/>
<rect x="1096" y="523" width="4" height="11" fill="#ff0000"/>
</g><g clip-path="url(#c2)">
<rect x="0" y="625" width="4" height="5" fill="#008000"/>
<rect x="8" y="625" width="4" height="1" fill="#008000"/>
<rect x="16" y="625" width="4" height="2" fill="#ff0000"/>
<rect x="24" y="625" width="4" height="17" fill="#ff0000"/>
<rect x="32" y="625" width="4" height="28" fill="#ff0000"/>
<rect x="40" y="625" width="4" height="31" fill="#ff0000"/>
<rect x="48" y="625" width="4" height="28" fill="#008000"/>
<rect x="56" y="625" width="4" height="20" fill="#008000"/>
<rect x="64" y="625" width="4" height="14" fill="#008000"/>
<rect x="72" y="625" width="4" height="15" fill="#ff0000"/>
<rect x="80" y="625" width="4" height="19" fill="#ff0000"/>
<rect x="88" y="625" width="4" height="25" fill="#ff0000"/>
<rect x="96" y="625" width="4" height="28" fill="#ff0000"/>
<rect x="104" y="625" width="4" height="35" fill="#ff0000"/>
<rect x="112" y="625" width="4" height="43" fill="#ff0000"/>
<rect x="120" y="625" width="4" height="43" fill="#008000"/>
<rect x="128" y="625" width="4" height="43" fill="#008000"/>
<rect x="136" y="625" width="4" height="43" fill="#008000"/>
<rect x="144" y="625" width="4" height="36" fill="#008000"/>
<rect x="152" y="625" width="4" height="24" fill="#008000"/>
<rect x="160" y="625" width="4" height="19" fill="#008000"/>
<rect x="168" y="625" width="4" height="14" fill="#008000"/>
<rect x="176" y="625" width="4" height="11" fill="#008000"/>
<rect x="184" y="625" width="4" height="7" fill="#008000"/>
<rect x="192" y="625" width="4" height="4" fill="#008000"/>
<rect x="200" y="623" width="4" height="2" fill="#008000"/>
<rect x="208" y="614" width="4" height="11" fill="#008000"/>
<rect x="216" y="607" width="4" height="18" fill="#008000"/>
<rect x="224" y="603" width="4" height="22" fill="#008000"/>
<rect x="232" y="604" width="4" height="21" fill="#ff0000"/>
<rect x="240" y="608" width="4" height="17" fill="#ff0000"/>
<rect x="248" y="611" width="4" height="14" fill="#ff0000"/>
<rect x="256" y="612" width="4" height="13" fill="#ff0000"/>
<rect x="264" y="614" width="4" height="11" fill="#ff0000"/>
<rect x="272" y="610" width="4" height="15" fill="#008000"/>
<rect x="280" y="609" width="4" height="16" fill="#008000"/>
<rect x="288" y="613" width="4" height="12" fill="#ff0000"/>
<rect x="296" y="614" width="4" height="11" fill="#ff0000"/>
<rect x="304" y="611" width="4" height="14" fill="#008000"/>
<rect x="312" y="613" width="4" height="12" fill="#ff0000"/>
<rect x="320" y="602" width="4" height="23" fill="#008000"/>
<rect x="328" y="591" width="4" height="34" fill="#008000"/>
<rect x="336" y="587" width="4" height="38" fill="#008000"/>
<rect x="344" y="586" width="4" height="39" fill="#008000"/>
<rect x="352" y="589" width="4" height="36" fill="#ff0000"/>
<rect x="360" y="606" width="4" height="19" fill="#ff0000"/>
<rect x="368" y="625" width="4" height="3" fill="#ff0000"/>
<rect x="376" y="625" width="4" height="18" fill="#ff0000"/>
<rect x="384" y="625" width="4" height="30" fill="#ff0000"/>
<rect x="392" y="625" width="4" height="36" fill="#ff0000"/>
<rect x="400" y="625" width="4" height="39" fill="#ff0000"/>
<rect x="408" y="625" width="4" height="34" fill="#008000"/>
<rect x="416" y="625" width="4" height="24" fill="#008000"/>
<rect x="424" y="625" width="4" height="12" fill="#008000"/>
<rect x="432" y="625" width="4" height="3" fill="#008000"/>
<rect x="440" y="620" width="4" height="5" fill="#008000"/>
<rect x="448" y="621" width="4" height="4" fill="#ff0000"/>
<rect x="456" y="618" width="4" height="7" fill="#008000"/>
<rect x="464" y="622" width="4" height="3" fill="#ff0000"/>
<rect x="472" y="624" width="4" height="1" fill="#ff0000"/>
<rect x="480" y="625" width="4" height="4" fill="#ff0000"/>
<rect x="488" y="625" width="4" height="7" fill="#ff0000"/>
<rect x="496" y="625" width="4" height="22" fill="#ff0000"/>
<rect x="504" y="625" width="4" height="33" fill="#ff0000"/>
<rect x="512" y="625" width="4" height="37" fill="#ff0000"/>
<rect x="520" y="625" width="4" height="40" fill="#ff0000"/>
<rect x="528" y="625" width="4" height="32" fill="#008000"/>
<rect x="536" y="625" width="4" height="15" fill="#008000"/>
<rect x="544" y="625" width="4" height="1" fill="#008000"/>
<rect x="552" y="619" width="4" height="6" fill="#008000"/>
<rect x="560" y="612" width="4" height="13" fill="#008000"/>
<rect x="568" y="610" width="4" height="15" fill="#008000"/>
<rect x="576" y="610" width="4" height="15" fill="#ff0000"/>
<rect x="584" y="611" width="4" height="14" fill="#ff0000"/>
<rect x="592" y="615" width="4" height="10" fill="#ff0000"/>
<rect x="600" y="625" width="4" height="1" fill="#ff0000"/>
<rect x="608" y="625" width="4" height="10" fill="#ff0000"/>
<rect x="616" y="625" width="4" height="12" fill="#ff0000"/>
<rect x="624" y="625" width="4" height="9" fill="#008000"/>
<rect x="632" y="625" width="4" height="3" fill="#008000"/>
<rect x="640" y="619" width="4" height="6" fill="#008000"/>
<rect x="648" y="613" width="4" height="12" fill="#008000"/>
<rect x="656" y="606" width="4" height="19" fill="#008000"/>
<rect x="664" y="607" width="4" height="18" fill="#ff0000"/>
<rect x="672" y="607" width="4" height="18" fill="#008000"/>
<rect x="680" y="604" width="4" height="21" fill="#008000"/>
<rect x="688" y="603" width="4" height="22" fill="#008000"/>
<rect x="696" y="609" width="4" height="16" fill="#ff0000"/>
<rect x="704" y="611" width="4" height="14" fill="#ff0000"/>
<rect x="712" y="613" width="4" height="12" fill="#ff0000"/>
<rect x="720" y="617" width="4" height="8" fill="#ff0000"/>
<rect x="728" y="621" width="4" height="4" fill="#ff0000"/>
<rect x="736" y="625" width="4" height="1" fill="#ff0000"/>
<rect x="744" y="625" width="4" height="1" fill="#008000"/>
<rect x="752" y="625" width="4" height="1" fill="#ff0000"/>
<rect x="760" y="625" width="4" height="1" fill="#008000"/>
<rect x="768" y="624" width="4" height="1" fill="#008000"/>
<rect x="776" y="625" width="4" height="1" fill="#ff0000"/>
<rect x="784" y="621" width="4" height="4" fill="#008000"/>
<rect x="792" y="617" width="4" height="8" fill="#008000"/>
<rect x="800" y="615" width="4" height="10" fill="#008000"/>
<rect x="808" y="612" width="4" height="13" fill="#008000"/>
<rect x="816" y="606" width="4" height="19" fill="#008000"/>
<rect x="824" y="607" width="4" height="18" fill="#ff0000"/>
<rect x="832" y="608" width="4" height="17" fill="#ff0000"/>
<rect x="840" y="607" width="4" height="18" fill="#008000"/>
<rect x="848" y="608" width="4" height="17" fill="#ff0000"/>
<rect x="856" y="613" width="4" height="12" fill="#ff0000"/>
<rect x="864" y="615" width="4" height="10" fill="#ff0000"/>
<rect x="872" y="621" width="4" height="4" fill="#ff0000"/>
<rect x="880" y="625" width="4" height="5" fill="#ff0000"/>
<rect x="888" y="625" width="4" height="13" fill="#ff0000"/>
<rect x="896" y="625" width="4" height="18" fill="#ff0000"/>
<rect x="904" y="625" width="4" height="23" fill="#ff0000"/>
<rect x="912" y="625" width="4" height="24" fill="#ff0000"/>
<rect x="920" y="625" width="4" height="23" fill="#008000"/>
<rect x="928" y="625" width="4" height="15" fill="#008000"/>
<rect x="936" y="625" width="4" height="14" fill="#008000"/>
<rect x="944" y="625" width="4" height="8" fill="#008000"/>
<rect x="952" y="622" width="4" height="3" fill="#008000"/>
<rect x="960" y="609" width="4" height="16" fill="#008000"/>
<rect x="968" y="601" width="4" height="24" fill="#008000"/>
<rect x="976" y="594" width="4" height="31" fill="#008000"/>
<rect x="984" y="596" width="4" height="29" fill="#ff0000"/>
<rect x="992" y="609" width="4" height="16" fill="#ff0000"/>
<rect x="1000" y="621" width="4" height="4" fill="#ff0000"/>
<rect x="1008" y="625" width="4" height="9" fill="#ff0000"/>
<rect x="1016" y="625" width="4" height="15" fill="#ff0000"/>
<rect x="1024" y="625" width="4" height="12" fill="#008000"/>
<rect x="1032" y="625" width="4" height="1" fill="#008000"/>
<rect x="1040" y="625" width="4" height="1" fill="#ff0000"/>
<rect x="1048" y="625" width="4" height="2" fill="#ff0000"/>
<rect x="1056" y="625" width="4" height="5" fill="#ff0000"/>
<rect x="1064" y="625" width="4" height="11" fill="#ff0000"/>
<rect x="1072" y="625" width="4" height="18" fill="#ff0000"/>
<rect x="1080" y="625" width="4" height="13" fill="#008000"/>
<rect x="1088" y="625" width="4" height="8" fill="#008000"/>
<rect x="1096" y="625" width="4" height="3" fill="#008000"/>
</g><g clip-path="url(#c3)">
<rect x="0" y="690" width="4" height="44" fill="#008000"/>
<rect x="0" y="734" width="4" height="24" fill="#ff0000"/>
<rect x="8" y="694" width="4" height="40" fill="#ff0000"/>
<rect x="8" y="734" width="4" height="30" fill="#008000"/>
<rect x="16" y="697" width="4" height="37" fill="#ff0000"/>
<rect x="16" y="734" width="4" height="36" fill="#008000"/>
<rect x="24" y="695" width="4" height="39" fill="#008000"/>
<rect x="24" y="734" width="4" height="35" fill="#ff0000"/>
<rect x="32" y="694" width="4" height="40" fill="#008000"/>
<rect x="32" y="734" width="4" height="30" fill="#ff0000"/>
<rect x="40" y="694" width="4" height="40" fill="#008000"/>
<rect x="40" y="734" width="4" height="23" fill="#ff0000"/>
<rect x="48" y="694" width="4" height="40" fill="#ff0000"/>
<rect x="48" y="734" width="4" height="17" fill="#ff0000"/>
<rect x="56" y="694" width="4" height="40" fill="#ff0000"/>
<rect x="56" y="734" width="4" height="15" fill="#ff0000"/>
<rect x="64" y="699" width="4" height="35" fill="#ff0000"/>
<rect x="64" y="734" width="4" height="16" fill="#008000"/>
<rect x="72" y="702" width="4" height="32" fill="#ff0000"/>
<rect x="72" y="734" width="4" height="16" fill="#ff0000"/>
<rect x="80" y="703" width="4" height="31" fill="#ff0000"/>
<rect x="80" y="734" width="4" height="14" fill="#ff0000"/>
<rect x="88" y="703" width="4" height="31" fill="#ff0000"/>
<rect x="88" y="734" width="4" height="12" fill="#ff0000"/>
<rect x="96" y="704" width="4" height="30" fill="#ff0000"/>
<rect x="96" y="734" width="4" height="9" fill="#ff0000"/>
<rect x="104" y="706" width="4" height="28" fill="#ff0000"/>
<rect x="104" y="734" width="4" height="5" fill="#ff0000"/>
<rect x="112" y="709" width="4" height="25" fill="#ff0000"/>
<rect x="112" y="734" width="4" height="2" fill="#ff0000"/>
<rect x="120" y="712" width="4" height="22" fill="#ff0000"/>
<rect x="120" y="734" width="4" height="1" fill="#ff0000"/>
<rect x="128" y="716" width="4" height="18" fill="#ff0000"/>
<rect x="128" y="734" width="4" height="8" fill="#008000"/>
<rect x="136" y="719" width="4" height="15" fill="#ff0000"/>
<rect x="136" y="734" width="4" height="19" fill="#008000"/>
<rect x="144" y="726" width="4" height="8" fill="#ff0000"/>
<rect x="144" y="734" width="4" height="20" fill="#008000"/>
<rect x="152" y="734" width="4" height="20" fill="#008000"/>
<rect x="160" y="729" width="4" height="5" fill="#008000"/>
<rect x="160" y="734" width="4" height="23" fill="#008000"/>
<rect x="168" y="725" width="4" height="9" fill="#008000"/>
<rect x="168" y="734" width="4" height="25" fill="#008000"/>
<rect x="176" y="723" width="4" height="11" fill="#008000"/>
<rect x="176" y="734" width="4" height="24" fill="#ff0000"/>
<rect x="184" y="719" width="4" height="15" fill="#008000"/>
<rect x="184" y="734" width="4" height="22" fill="#ff0000"/>
<rect x="192" y="718" width="4" height="16" fill="#008000"/>
<rect x="192" y="734" width="4" height="23" fill="#008000"/>
<rect x="200" y="717" width="4" height="17" fill="#008000"/>
<rect x="200" y="734" width="4" height="23" fill="#008000"/>
<rect x="208" y="716" width="4" height="18" fill="#008000"/>
<rect x="208" y="734" width="4" height="22" fill="#ff0000"/>
<rect x="216" y="715" width="4" height="19" fill="#008000"/>
<rect x="216" y="734" width="4" height="19" fill="#ff0000"/>
<rect x="224" y="714" width="4" height="20" fill="#008000"/>
<rect x="224" y="734" width="4" height="13" fill="#ff0000"/>
<rect x="232" y="715" width="4" height="19" fill="#ff0000"/>
<rect x="232" y="734" width="4" height="8" fill="#ff0000"/>
<rect x="240" y="717" width="4" height="17" fill="#ff0000"/>
<rect x="240" y="734" width="4" height="6" fill="#ff0000"/>
<rect x="248" y="721" width="4" height="13" fill="#ff0000"/>
<rect x="248" y="734" width="4" height="6" fill="#ff0000"/>
<rect x="256" y="723" width="4" height="11" fill="#ff0000"/>
<rect x="256" y="734" width="4" height="5" fill="#ff0000"/>
<rect x="264" y="724" width="4" height="10" fill="#ff0000"/>
<rect x="264" y="734" width="4" height="2" fill="#ff0000"/>
<rect x="272" y="724" width="4" height="10" fill="#ff0000"/>
<rect x="272" y="734" width="4" height="1" fill="#ff0000"/>
<rect x="280" y="726" width="4" height="8" fill="#ff0000"/>
<rect x="280" y="734" width="4" height="1" fill="#008000"/>
<rect x="288" y="729" width="4" height="5" fill="#ff0000"/>
<rect x="288" y="734" width="4" height="2" fill="#008000"/>
<rect x="296" y="730" width="4" height="4" fill="#ff0000"/>
<rect x="296" y="734" width="4" height="1" fill="#ff0000"/>
<rect x="304" y="729" width="4" height="5" fill="#008000"/>
<rect x="304" y="734" width="4" height="6" fill="#008000"/>
<rect x="312" y="731" width="4" height="3" fill="#ff0000"/>
<rect x="312" y="734" width="4" height="5" fill="#ff0000"/>
<rect x="320" y="733" width="4" height="1" fill="#ff0000"/>
<rect x="320" y="734" width="4" height="3" fill="#ff0000"/>
<rect x="328" y="733" width="4" height="1" fill="#ff0000"/>
<rect x="328" y="734" width="4" height="3" fill="#008000"/>
<rect x="336" y="733" width="4" height="1" fill="#ff0000"/>
<rect x="336" y="734" width="4" height="6" fill="#008000"/>
<rect x="344" y="734" width="4" height="17" fill="#008000"/>
<rect x="352" y="732" width="4" height="2" fill="#008000"/>
<rect x="352" y="734" width="4" height="26" fill="#008000"/>
<rect x="360" y="724" width="4" height="10" fill="#008000"/>
<rect x="360" y="734" width="4" height="24" fill="#ff0000"/>
<rect x="368" y="717" width="4" height="17" fill="#008000"/>
<rect x="368" y="734" width="4" height="21" fill="#ff0000"/>
<rect x="376" y="713" width="4" height="21" fill="#008000"/>
<rect x="376" y="734" width="4" height="21" fill="#008000"/>
<rect x="384" y="714" width="4" height="20" fill="#ff0000"/>
<rect x="384" y="734" width="4" height="21" fill="#ff0000"/>
<rect x="392" y="714" width="4" height="20" fill="#ff0000"/>
<rect x="392" y="734" width="4" height="12" fill="#ff0000"/>
<rect x="400" y="713" width="4" height="21" fill="#008000"/>
<rect x="400" y="734" width="4" height="2" fill="#ff0000"/>
<rect x="408" y="717" width="4" height="17" fill="#ff0000"/>
<rect x="408" y="734" width="4" height="2" fill="#ff0000"/>
<rect x="416" y="723" width="4" height="11" fill="#ff0000"/>
<rect x="416" y="734" width="4" height="4" fill="#008000"/>
<rect x="424" y="729" width="4" height="5" fill="#ff0000"/>
<rect x="424" y="734" width="4" height="6" fill="#008000"/>
<rect x="432" y="732" width="4" height="2" fill="#ff0000"/>
<rect x="432" y="734" width="4" height="8" fill="#008000"/>
<rect x="440" y="734" width="4" height="9" fill="#008000"/>
<rect x="448" y="731" width="4" height="3" fill="#008000"/>
<rect x="448" y="734" width="4" height="5" fill="#ff0000"/>
<rect x="456" y="730" width="4" height="4" fill="#008000"/>
<rect x="456" y="734" width="4" height="2" fill="#ff0000"/>
<rect x="464" y="732" width="4" height="2" fill="#ff0000"/>
<rect x="464" y="734" width="4" height="1" fill="#ff0000"/>
<rect x="472" y="733" width="4" height="1" fill="#ff0000"/>
<rect x="472" y="734" width="4" height="2" fill="#008000"/>
<rect x="480" y="731" width="4" height="3" fill="#008000"/>
<rect x="480" y="734" width="4" height="2" fill="#ff0000"/>
<rect x="488" y="734" width="4" height="1" fill="#ff0000"/>
<rect x="496" y="732" width="4" height="2" fill="#008000"/>
<rect x="496" y="734" width="4" height="1" fill="#ff0000"/>
<rect x="504" y="733" width="4" height="1" fill="#ff0000"/>
<rect x="504" y="734" width="4" height="1" fill="#008000"/>
<rect x="512" y="732" width="4" height="2" fill="#008000"/>
<rect x="512" y="734" width="4" height="5" fill="#008000"/>
<rect x="520" y="732" width="4" height="2" fill="#ff0000"/>
<rect x="520" y="734" width="4" height="17" fill="#008000"/>
<rect x="528" y="732" width="4" height="2" fill="#ff0000"/>
<rect x="528" y="734" width="4" height="23" fill="#008000"/>
<rect x="536" y="724" width="4" height="10" fill="#008000"/>
<rect x="536" y="734" width="4" height="21" fill="#ff0000"/>
<rect x="544" y="717" width="4" height="17" fill="#008000"/>
<rect x="544" y="734" width="4" height="20" fill="#ff0000"/>
<rect x="552" y="715" width="4" height="19" fill="#008000"/>
<rect x="552" y="734" width="4" height="20" fill="#008000"/>
<rect x="560" y="714" width="4" height="20" fill="#008000"/>
<rect x="560" y="734" width="4" height="18" fill="#ff0000"/>
<rect x="568" y="715" width="4" height="19" fill="#ff0000"/>
<rect x="568" y="734" width="4" height="15" fill="#ff0000"/>
<rect x="576" y="715" width="4" height="19" fill="#ff0000"/>
<rect x="576" y="734" width="4" height="12" fill="#ff0000"/>
<rect x="584" y="716" width="4" height="18" fill="#ff0000"/>
<rect x="584" y="734" width="4" height="9" fill="#ff0000"/>
<rect x="592" y="718" width="4" height="16" fill="#ff0000"/>
<rect x="592" y="734" width="4" height="6" fill="#ff0000"/>
<rect x="600" y="720" width="4" height="14" fill="#ff0000"/>
<rect x="600" y="734" width="4" height="4" fill="#ff0000"/>
<rect x="608" y="722" width="4" height="12" fill="#ff0000"/>
<rect x="608" y="734" width="4" height="5" fill="#008000"/>
<rect x="616" y="724" width="4" height="10" fill="#ff0000"/>
<rect x="616" y="734" width="4" height="7" fill="#008000"/>
<rect x="624" y="724" width="4" height="10" fill="#ff0000"/>
<rect x="624" y="734" width="4" height="13" fill="#008000"/>
<rect x="632" y="723" width="4" height="11" fill="#008000"/>
<rect x="632" y="734" width="4" height="17" fill="#008000"/>
<rect x="640" y="718" width="4" height="16" fill="#008000"/>
<rect x="640" y="734" width="4" height="14" fill="#ff0000"/>
<rect x="648" y="715" width="4" height="19" fill="#008000"/>
<rect x="648" y="734" width="4" height="10" fill="#ff0000"/>
<rect x="656" y="715" width="4" height="19" fill="#008000"/>
<rect x="656" y="734" width="4" height="9" fill="#ff0000"/>
<rect x="664" y="717" width="4" height="17" fill="#ff0000"/>
<rect x="664" y="734" width="4" height="9" fill="#008000"/>
<rect x="672" y="719" width="4" height="15" fill="#ff0000"/>
<rect x="672" y="734" width="4" height="8" fill="#ff0000"/>
<rect x="680" y="719" width="4" height="15" fill="#ff0000"/>
<rect x="680" y="734" width="4" height="1" fill="#ff0000"/>
<rect x="688" y="720" width="4" height="14" fill="#ff0000"/>
<rect x="688" y="734" width="4" height="2" fill="#008000"/>
<rect x="696" y="725" width="4" height="9" fill="#ff0000"/>
<rect x="696" y="734" width="4" height="1" fill="#ff0000"/>
<rect x="704" y="727" width="4" height="7" fill="#ff0000"/>
<rect x="704" y="734" width="4" height="4" fill="#008000"/>
<rect x="712" y="730" width="4" height="4" fill="#ff0000"/>
<rect x="712" y="734" width="4" height="7" fill="#008000"/>
<rect x="720" y="731" width="4" height="3" fill="#ff0000"/>
<rect x="720" y="734" width="4" height="8" fill="#008000"/>
<rect x="728" y="733" width="4" height="1" fill="#ff0000"/>
<rect x="728" y="734" width="4" height="7" fill="#ff0000"/>
<rect x="736" y="732" width="4" height="2" fill="#008000"/>
<rect x="736" y="734" width="4" height="6" fill="#ff0000"/>
<rect x="744" y="732" width="4" height="2" fill="#008000"/>
<rect x="744" y="734" width="4" height="6" fill="#008000"/>
<rect x="752" y="732" width="4" height="2" fill="#008000"/>
<rect x="752" y="734" width="4" height="4" fill="#ff0000"/>
<rect x="760" y="732" width="4" height="2" fill="#008000"/>
<rect x="760" y="734" width="4" height="3" fill="#ff0000"/>
<rect x="768" y="732" width="4" height="2" fill="#ff0000"/>
<rect x="768" y="734" width="4" height="3" fill="#008000"/>
<rect x="776" y="733" width="4" height="1" fill="#ff0000"/>
<rect x="776" y="734" width="4" height="2" fill="#ff0000"/>
<rect x="784" y="733" width="4" height="1" fill="#ff0000"/>
<rect x="784" y="734" width="4" height="3" fill="#008000"/>
<rect x="792" y="733" width="4" height="1" fill="#008000"/>
<rect x="792" y="734" width="4" height="3" fill="#008000"/>
<rect x="800" y="732" width="4" height="2" fill="#008000"/>
<rect x="800" y="734" width="4" height="3" fill="#ff0000"/>
<rect x="808" y="732" width="4" height="2" fill="#008000"/>
<rect x="808" y="734" width="4" height="6" fill="#008000"/>
<rect x="816" y="731" width="4" height="3" fill="#008000"/>
<rect x="816" y="734" width="4" height="9" fill="#008000"/>
<rect x="824" y="730" width="4" height="4" fill="#008000"/>
<rect x="824" y="734" width="4" height="10" fill="#008000"/>
<rect x="832" y="728" width="4" height="6" fill="#008000"/>
<rect x="832" y="734" width="4" height="12" fill="#008000"/>
<rect x="840" y="725" width="4" height="9" fill="#008000"/>
<rect x="840" y="734" width="4" height="16" fill="#008000"/>
<rect x="848" y="723" width="4" height="11" fill="#008000"/>
<rect x="848" y="734" width="4" height="17" fill="#008000"/>
<rect x="856" y="720" width="4" height="14" fill="#008000"/>
<rect x="856" y="734" width="4" height="17" fill="#ff0000"/>
<rect x="864" y="718" width="4" height="16" fill="#008000"/>
<rect x="864" y="734" width="4" height="19" fill="#008000"/>
<rect x="872" y="716" width="4" height="18" fill="#008000"/>
<rect x="872" y="734" width="4" height="21" fill="#008000"/>
<rect x="880" y="715" width="4" height="19" fill="#008000"/>
<rect x="880" y="734" width="4" height="21" fill="#ff0000"/>
<rect x="888" y="713" width="4" height="21" fill="#008000"/>
<rect x="888" y="734" width="4" height="20" fill="#ff0000"/>
<rect x="896" y="711" width="4" height="23" fill="#008000"/>
<rect x="896" y="734" width="4" height="18" fill="#ff0000"/>
<rect x="904" y="711" width="4" height="23" fill="#008000"/>
<rect x="904" y="734" width="4" height="13" fill="#ff0000"/>
<rect x="912" y="712" width="4" height="22" fill="#ff0000"/>
<rect x="912" y="734" width="4" height="9" fill="#ff0000"/>
<rect x="920" y="714" width="4" height="20" fill="#ff0000"/>
<rect x="920" y="734" width="4" height="8" fill="#ff0000"/>
<rect x="928" y="717" width="4" height="17" fill="#ff0000"/>
<rect x="928" y="734" width="4" height="5" fill="#ff0000"/>
<rect x="936" y="719" width="4" height="15" fill="#ff0000"/>
<rect x="936" y="734" width="4" height="2" fill="#ff0000"/>
<rect x="944" y="721" width="4" height="13" fill="#ff0000"/>
<rect x="944" y="734" width="4" height="1" fill="#ff0000"/>
<rect x="952" y="723" width="4" height="11" fill="#ff0000"/>
<rect x="952" y="734" width="4" height="1" fill="#008000"/>
<rect x="960" y="726" width="4" height="8" fill="#ff0000"/>
<rect x="960" y="734" width="4" height="1" fill="#ff0000"/>
<rect x="968" y="726" width="4" height="8" fill="#008000"/>
<rect x="968" y="734" width="4" height="2" fill="#008000"/>
<rect x="976" y="727" width="4" height="7" fill="#ff0000"/>
<rect x="976" y="734" width="4" height="8" fill="#008000"/>
<rect x="984" y="726" width="4" height="8" fill="#008000"/>
<rect x="984" y="734" width="4" height="15" fill="#008000"/>
<rect x="992" y="723" width="4" height="11" fill="#008000"/>
<rect x="992" y="734" width="4" height="20" fill="#008000"/>
<rect x="1000" y="718" width="4" height="16" fill="#008000"/>
<rect x="1000" y="734" width="4" height="22" fill="#008000"/>
<rect x="1008" y="713" width="4" height="21" fill="#008000"/>
<rect x="1008" y="734" width="4" height="20" fill="#ff0000"/>
<rect x="1016" y="710" width="4" height="24" fill="#008000"/>
<rect x="1016" y="734" width="4" height="15" fill="#ff0000"/>
<rect x="1024" y="709" width="4" height="25" fill="#008000"/>
<rect x="1024" y="734" width="4" height="13" fill="#ff0000"/>
<rect x="1032" y="712" width="4" height="22" fill="#ff0000"/>
<rect x="1032" y="734" width="4" height="12" fill="#ff0000"/>
<rect x="1040" y="714" width="4" height="20" fill="#ff0000"/>
<rect x="1040" y="734" width="4" height="12" fill="#ff0000"/>
<rect x="1048" y="716" width="4" height="18" fill="#ff0000"/>
<rect x="1048" y="734" width="4" height="15" fill="#008000"/>
<rect x="1056" y="715" width="4" height="19" fill="#008000"/>
<rect x="1056" y="734" width="4" height="19" fill="#008000"/>
<rect x="1064" y="714" width="4" height="20" fill="#008000"/>
<rect x="1064" y="734" width="4" height="15" fill="#ff0000"/>
<rect x="1072" y="710" width="4" height="24" fill="#008000"/>
<rect x="1072" y="734" width="4" height="8" fill="#ff0000"/>
<rect x="1080" y="712" width="4" height="22" fill="#ff0000"/>
<rect x="1080" y="734" width="4" height="7" fill="#ff0000"/>
<rect x="1088" y="715" width="4" height="19" fill="#ff0000"/>
<rect x="1088" y="734" width="4" height="7" fill="#008000"/>
<rect x="1096" y="719" width="4" height="15" fill="#ff0000"/>
<rect x="1096" y="734" width="4" height="7" fill="#ff0000"/>
<rect x="1104" y="719" width="4" height="15" fill="#ff0000"/>
<rect x="1104" y="734" width="4" height="7" fill="#008000"/>
<rect x="1112" y="719" width="4" height="15" fill="#ff0000"/>
<rect x="1112" y="734" width="4" height="6" fill="#ff0000"/>
<rect x="1120" y="719" width="4" height="15" fill="#008000"/>
<rect x="1120" y="734" width="4" height="5" fill="#ff0000"/>
<rect x="1128" y="720" width="4" height="14" fill="#ff0000"/>
<rect x="1136" y="721" width="4" height="13" fill="#ff0000"/>
</g>
<rect x="2" y="2" width="1221" height="1" fill="#000"/><rect x="2" y="473" width="1221" height="1" fill="#000"/><rect x="2" y="2" width="1" height="472" fill="#000"/><rect x="1222" y="2" width="1" height="472" fill="#000"/>
<rect x="2" y="475" width="1221" height="1" fill="#000"/><rect x="2" y="575" width="1221" height="1" fill="#000"/><rect x="2" y="475" width="1" height="101" fill="#000"/><rect x="1222" y="475" width="1" height="101" fill="#000"/>
<rect x="2" y="577" width="1221" height="1" fill="#000"/><rect x="2" y="677" width="1221" height="1" fill="#000"/><rect x="2" y="577" width="1" height="101" fill="#000"/><rect x="1222" y="577" width="1" height="101" fill="#000"/>
<rect x="2" y="679" width="1221" height="1" fill="#000"/><rect x="2" y="779" width="1221" height="1" fill="#000"/><rect x="2" y="679" width="1" height="101" fill="#000"/><rect x="1222" y="679" width="1" height="101" fill="#000"/>
<rect x="1223" y="25" width="4" height="1" fill="#000"/>
<rect x="1223" y="57" width="4" height="1" fill="#000"/>
<rect x="1223" y="89" width="4" height="1" fill="#000"/>
<rect x="1223" y="121" width="4" height="1" fill="#000"/>
<rect x="1223" y="153" width="4" height="1" fill="#000"/>
<rect x="1223" y="185" width="4" height="1" fill="#000"/>
<rect x="1223" y="217" width="4" height="1" fill="#000"/>
<rect x="1223" y="249" width="4" height="1" fill="#000"/>
<rect x="1223" y="281" width="4" height="1" fill="#000"/>
<rect x="1223" y="313" width="4" height="1" fill="#000"/>
<rect x="1223" y="345" width="4" height="1" fill="#000"/>
<rect x="1223" y="377" width="4" height="1" fill="#000"/>
<rect x="1223" y="409" width="4" height="1" fill="#000"/>
<rect x="1223" y="441" width="4" height="1" fill="#000"/>
<rect x="1223" y="476" width="4" height="1" fill="#000"/>
<rect x="1223" y="574" width="4" height="1" fill="#000"/>
<rect x="1223" y="578" width="4" height="1" fill="#000"/>
<rect x="1223" y="676" width="4" height="1" fill="#000"/>
<rect x="1223" y="680" width="4" height="1" fill="#000"/>
<rect x="1223" y="778" width="4" height="1" fill="#000"/>
<rect x="2" y="780" width="1" height="4" fill="#000"/>
<rect x="66" y="780" width="1" height="4" fill="#000"/>
<rect x="130" y="780" width="1" height="4" fill="#000"/>
<rect x="194" y="780" width="1" height="4" fill="#000"/>
<rect x="258" y="780" width="1" height="4" fill="#000"/>
<rect x="322" y="780" width="1" height="4" fill="#000"/>
<rect x="386" y="780" width="1" height="4" fill="#000"/>
<rect x="450" y="780" width="1" height="4" fill="#000"/>
<rect x="514" y="780" width="1" height="4" fill="#000"/>
<rect x="578" y="780" width="1" height="4" fill="#000"/>
<rect x="642" y="780" width="1" height="4" fill="#000"/>
<rect x="706" y="780" width="1" height="4" fill="#000"/>
<rect x="770" y="780" width="1" height="4" fill="#000"/>
<rect x="834" y="780" width="1" height="4" fill="#000"/>
<rect x="898" y="780" width="1" height="4" fill="#000"/>
<rect x="962" y="780" width="1" height="4" fill="#000"/>
<rect x="1026" y="780" width="1" height="4" fill="#000"/>
<rect x="1090" y="780" width="1" height="4" fill="#000"/>
<rect x="1225" y="68" width="44" height="11" fill="#cc0000"/>
</g>
<g clip-path="url(#cm)">
<path d="M43.5,81 L37.5,90.8 L43.5,87.7 Z" fill="#808080"/><path d="M43.5,81.3 L48.8,90.5 L43.5,87.7 Z" fill="#fff" stroke="#b9c6dc" stroke-width="0.8"/>
<path d="M251.5,241 L245.5,250.8 L251.5,247.7 Z" fill="#808080"/><path d="M251.5,241.3 L256.8,250.5 L251.5,247.7 Z" fill="#fff" stroke="#b9c6dc" stroke-width="0.8"/>
<path d="M211.5,262 L205.5,271.8 L211.5,268.7 Z" fill="#808080"/><path d="M211.5,262.3 L216.8,271.5 L211.5,268.7 Z" fill="#fff" stroke="#b9c6dc" stroke-width="0.8"/>
<path d="M275.5,206 L269.5,215.8 L275.5,212.7 Z" fill="#808080"/><path d="M275.5,206.3 L280.8,215.5 L275.5,212.7 Z" fill="#fff" stroke="#b9c6dc" stroke-width="0.8"/>
<path d="M323.5,18 L317.5,27.8 L323.5,24.7 Z" fill="#808080"/><path d="M323.5,18.3 L328.8,27.5 L323.5,24.7 Z" fill="#fff" stroke="#b9c6dc" stroke-width="0.8"/>
<path d="M443.5,150 L437.5,159.8 L443.5,156.7 Z" fill="#808080"/><path d="M443.5,150.3 L448.8,159.5 L443.5,156.7 Z" fill="#fff" stroke="#b9c6dc" stroke-width="0.8"/>
<path d="M475.5,168 L469.5,177.8 L475.5,174.7 Z" fill="#808080"/><path d="M475.5,168.3 L480.8,177.5 L475.5,174.7 Z" fill="#fff" stroke="#b9c6dc" stroke-width="0.8"/>
<path d="M515.5,312 L509.5,321.8 L515.5,318.7 Z" fill="#808080"/><path d="M515.5,312.3 L520.8,321.5 L515.5,318.7 Z" fill="#fff" stroke="#b9c6dc" stroke-width="0.8"/>
<path d="M579.5,288 L573.5,297.8 L579.5,294.7 Z" fill="#808080"/><path d="M579.5,288.3 L584.8,297.5 L579.5,294.7 Z" fill="#fff" stroke="#b9c6dc" stroke-width="0.8"/>
<path d="M659.5,248 L653.5,257.8 L659.5,254.7 Z" fill="#808080"/><path d="M659.5,248.3 L664.8,257.5 L659.5,254.7 Z" fill="#fff" stroke="#b9c6dc" stroke-width="0.8"/>
<path d="M699.5,269 L693.5,278.8 L699.5,275.7 Z" fill="#808080"/><path d="M699.5,269.3 L704.8,278.5 L699.5,275.7 Z" fill="#fff" stroke="#b9c6dc" stroke-width="0.8"/>
<path d="M867.5,129 L861.5,138.8 L867.5,135.7 Z" fill="#808080"/><path d="M867.5,129.3 L872.8,138.5 L867.5,135.7 Z" fill="#fff" stroke="#b9c6dc" stroke-width="0.8"/>
<path d="M987.5,35 L981.5,44.8 L987.5,41.7 Z" fill="#808080"/><path d="M987.5,35.3 L992.8,44.5 L987.5,41.7 Z" fill="#fff" stroke="#b9c6dc" stroke-width="0.8"/>
<path d="M1035.5,0 L1029.5,9.8 L1035.5,6.7 Z" fill="#808080"/><path d="M1035.5,0.3 L1040.8,9.5 L1035.5,6.7 Z" fill="#fff" stroke="#b9c6dc" stroke-width="0.8"/>
<path d="M1083.5,48 L1077.5,57.8 L1083.5,54.7 Z" fill="#808080"/><path d="M1083.5,48.3 L1088.8,57.5 L1083.5,54.7 Z" fill="#fff" stroke="#b9c6dc" stroke-width="0.8"/>
<path d="M27,202.2 L32.8,192.79999999999998 L27,195.89999999999998 Z" fill="#808080"/><path d="M27,201.89999999999998 L21.4,193.0 L27,195.89999999999998 Z" fill="#fff" stroke="#b9c6dc" stroke-width="0.8"/>
<path d="M115,347.2 L120.8,337.8 L115,340.9 Z" fill="#808080"/><path d="M115,346.9 L109.4,338.0 L115,340.9 Z" fill="#fff" stroke="#b9c6dc" stroke-width="0.8"/>
<path d="M147,389.2 L152.8,379.8 L147,382.9 Z" fill="#808080"/><path d="M147,388.9 L141.4,380.0 L147,382.9 Z" fill="#fff" stroke="#b9c6dc" stroke-width="0.8"/>
<path d="M179,396.2 L184.8,386.8 L179,389.9 Z" fill="#808080"/><path d="M179,395.9 L173.4,387.0 L179,389.9 Z" fill="#fff" stroke="#b9c6dc" stroke-width="0.8"/>
<path d="M267,368.2 L272.8,358.8 L267,361.9 Z" fill="#808080"/><path d="M267,367.9 L261.4,359.0 L267,361.9 Z" fill="#fff" stroke="#b9c6dc" stroke-width="0.8"/>
<path d="M291,309.2 L296.8,299.8 L291,302.9 Z" fill="#808080"/><path d="M291,308.9 L285.4,300.0 L291,302.9 Z" fill="#fff" stroke="#b9c6dc" stroke-width="0.8"/>
<path d="M347,196.2 L352.8,186.79999999999998 L347,189.89999999999998 Z" fill="#808080"/><path d="M347,195.89999999999998 L341.4,187.0 L347,189.89999999999998 Z" fill="#fff" stroke="#b9c6dc" stroke-width="0.8"/>
<path d="M411,317.2 L416.8,307.8 L411,310.9 Z" fill="#808080"/><path d="M411,316.9 L405.4,308.0 L411,310.9 Z" fill="#fff" stroke="#b9c6dc" stroke-width="0.8"/>
<path d="M451,343.2 L456.8,333.8 L451,336.9 Z" fill="#808080"/><path d="M451,342.9 L445.4,334.0 L451,336.9 Z" fill="#fff" stroke="#b9c6dc" stroke-width="0.8"/>
<path d="M507,428.2 L512.8,418.8 L507,421.9 Z" fill="#808080"/><path d="M507,427.9 L501.4,419.0 L507,421.9 Z" fill="#fff" stroke="#b9c6dc" stroke-width="0.8"/>
<path d="M603,480.2 L608.8,470.8 L603,473.9 Z" fill="#808080"/><path d="M603,479.9 L597.4,471.0 L603,473.9 Z" fill="#fff" stroke="#b9c6dc" stroke-width="0.8"/>
<path d="M651,466.2 L656.8,456.8 L651,459.9 Z" fill="#808080"/><path d="M651,465.9 L645.4,457.0 L651,459.9 Z" fill="#fff" stroke="#b9c6dc" stroke-width="0.8"/>
<path d="M707,339.2 L712.8,329.8 L707,332.9 Z" fill="#808080"/><path d="M707,338.9 L701.4,330.0 L707,332.9 Z" fill="#fff" stroke="#b9c6dc" stroke-width="0.8"/>
<path d="M731,365.2 L736.8,355.8 L731,358.9 Z" fill="#808080"/><path d="M731,364.9 L725.4,356.0 L731,358.9 Z" fill="#fff" stroke="#b9c6dc" stroke-width="0.8"/>
<path d="M771,373.2 L776.8,363.8 L771,366.9 Z" fill="#808080"/><path d="M771,372.9 L765.4,364.0 L771,366.9 Z" fill="#fff" stroke="#b9c6dc" stroke-width="0.8"/>
<path d="M939,280.2 L944.8,270.8 L939,273.9 Z" fill="#808080"/><path d="M939,279.9 L933.4,271.0 L939,273.9 Z" fill="#fff" stroke="#b9c6dc" stroke-width="0.8"/>
<path d="M995,215.2 L1000.8,205.79999999999998 L995,208.89999999999998 Z" fill="#808080"/><path d="M995,214.89999999999998 L989.4,206.0 L995,208.89999999999998 Z" fill="#fff" stroke="#b9c6dc" stroke-width="0.8"/>
<path d="M1051,132.2 L1056.8,122.79999999999998 L1051,125.89999999999999 Z" fill="#808080"/><path d="M1051,131.89999999999998 L1045.4,122.99999999999999 L1051,125.89999999999999 Z" fill="#fff" stroke="#b9c6dc" stroke-width="0.8"/>
</g>
<g filter="url(#th)">
<text x="1228" y="29" textLength="37" lengthAdjust="spacingAndGlyphs">25339.00</text>
<text x="1228" y="61" textLength="37" lengthAdjust="spacingAndGlyphs">25305.55</text>
<text x="1228" y="93" textLength="37" lengthAdjust="spacingAndGlyphs">25272.10</text>
<text x="1228" y="125" textLength="37" lengthAdjust="spacingAndGlyphs">25238.65</text>
<text x="1228" y="157" textLength="37" lengthAdjust="spacingAndGlyphs">25205.20</text>
<text x="1228" y="189" textLength="37" lengthAdjust="spacingAndGlyphs">25171.75</text>
<text x="1228" y="221" textLength="37" lengthAdjust="spacingAndGlyphs">25138.30</text>
<text x="1228" y="253" textLength="37" lengthAdjust="spacingAndGlyphs">25104.85</text>
<text x="1228" y="285" textLength="37" lengthAdjust="spacingAndGlyphs">25071.40</text>
<text x="1228" y="317" textLength="37" lengthAdjust="spacingAndGlyphs">25037.95</text>
<text x="1228" y="349" textLength="37" lengthAdjust="spacingAndGlyphs">25004.50</text>
<text x="1228" y="381" textLength="37" lengthAdjust="spacingAndGlyphs">24971.05</text>
<text x="1228" y="413" textLength="37" lengthAdjust="spacingAndGlyphs">24937.60</text>
<text x="1228" y="445" textLength="37" lengthAdjust="spacingAndGlyphs">24904.15</text>
<text x="1228" y="77" textLength="37" lengthAdjust="spacingAndGlyphs" style="fill:#fff;stroke:#fff">25288.55</text>
<text x="1228" y="484" textLength="32" lengthAdjust="spacingAndGlyphs">273.069</text>
<text x="1228" y="573" textLength="35.4" lengthAdjust="spacingAndGlyphs">-188.505</text>
<text x="1228" y="586" textLength="33.2" lengthAdjust="spacingAndGlyphs">66.9054</text>
<text x="1228" y="675" textLength="35.2" lengthAdjust="spacingAndGlyphs">-72.0107</text>
<text x="1228" y="688" textLength="31.7" lengthAdjust="spacingAndGlyphs">133.197</text>
<text x="1228" y="777" textLength="35.2" lengthAdjust="spacingAndGlyphs">-109.817</text>
<text x="2.3" y="792" textLength="51" lengthAdjust="spacingAndGlyphs">18 Feb 2026</text>
<text x="66.3" y="792" textLength="54.3" lengthAdjust="spacingAndGlyphs">19 Feb 06:00</text>
<text x="130.3" y="792" textLength="54.3" lengthAdjust="spacingAndGlyphs">19 Feb 14:00</text>
<text x="194.3" y="792" textLength="54.3" lengthAdjust="spacingAndGlyphs">19 Feb 22:00</text>
<text x="258.3" y="792" textLength="54.3" lengthAdjust="spacingAndGlyphs">20 Feb 09:00</text>
<text x="322.3" y="792" textLength="54.3" lengthAdjust="spacingAndGlyphs">20 Feb 17:00</text>
<text x="386.3" y="792" textLength="54.3" lengthAdjust="spacingAndGlyphs">23 Feb 04:00</text>
<text x="450.3" y="792" textLength="54.3" lengthAdjust="spacingAndGlyphs">23 Feb 12:00</text>
<text x="514.3" y="792" textLength="54.3" lengthAdjust="spacingAndGlyphs">23 Feb 20:00</text>
<text x="578.3" y="792" textLength="54.3" lengthAdjust="spacingAndGlyphs">24 Feb 07:00</text>
<text x="642.3" y="792" textLength="54.3" lengthAdjust="spacingAndGlyphs">24 Feb 15:00</text>
<text x="706.3" y="792" textLength="54.3" lengthAdjust="spacingAndGlyphs">25 Feb 02:00</text>
<text x="770.3" y="792" textLength="54.3" lengthAdjust="spacingAndGlyphs">25 Feb 10:00</text>
<text x="834.3" y="792" textLength="54.3" lengthAdjust="spacingAndGlyphs">25 Feb 18:00</text>
<text x="898.3" y="792" textLength="54.3" lengthAdjust="spacingAndGlyphs">26 Feb 05:00</text>
<text x="962.3" y="792" textLength="54.3" lengthAdjust="spacingAndGlyphs">26 Feb 13:00</text>
<text x="1026.3" y="792" textLength="54.3" lengthAdjust="spacingAndGlyphs">26 Feb 21:00</text>
<text x="1090.3" y="792" textLength="54.3" lengthAdjust="spacingAndGlyphs">27 Feb 08:00</text>
<text x="6" y="488" textLength="61" lengthAdjust="spacingAndGlyphs">AOcust 53.486</text>
<text x="6" y="590" textLength="64" lengthAdjust="spacingAndGlyphs">ACcust -4.3700</text>
<text x="6" y="692" textLength="106.5" lengthAdjust="spacingAndGlyphs">GatorCust 32.202 -12.390</text>
</g>
</svg></body></html>
